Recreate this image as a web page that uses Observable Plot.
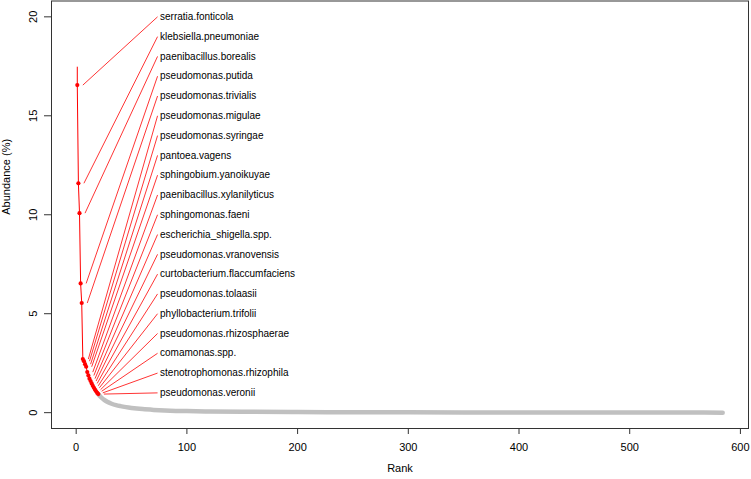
<!DOCTYPE html>
<html><head><meta charset="utf-8">
<script src="https://cdn.jsdelivr.net/npm/d3@7"></script>
<script src="https://cdn.jsdelivr.net/npm/@observablehq/plot@0.6"></script>
<style>html,body{margin:0;padding:0;background:#fff;}</style>
</head><body><div id="chart"></div>
<script>
// Top 20 taxa (rank 1..20)
const taxa = [
  "serratia.fonticola", "klebsiella.pneumoniae", "paenibacillus.borealis",
  "pseudomonas.putida", "pseudomonas.trivialis", "pseudomonas.migulae",
  "pseudomonas.syringae", "pantoea.vagens", "sphingobium.yanoikuyae",
  "paenibacillus.xylanilyticus", "sphingomonas.faeni", "escherichia_shigella.spp.",
  "pseudomonas.vranovensis", "curtobacterium.flaccumfaciens", "pseudomonas.tolaasii",
  "phyllobacterium.trifolii", "pseudomonas.rhizosphaerae", "comamonas.spp.",
  "stenotrophomonas.rhizophila", "pseudomonas.veronii"
];
const topRanks = [1,2,3,4,5,6,7,8,9,10,11,12,13,14,15,16,17,18,19,20];
const topAbundance = [16.55, 11.59, 10.08, 6.53, 5.54, 2.71, 2.6, 2.45, 2.32, 2.05,
  1.88, 1.72, 1.6, 1.48, 1.36, 1.26, 1.16, 1.08, 1.0, 0.94];
// label rows (y-values of the label column)
const labelRows = [20,19,18,17,16,15,14,13,12,11,10,9,8,7,6,5,4,3,2,1];
// red line start above rank 1
const redLineStartRank = 1;
const redLineStartValue = 17.46;

// remaining taxa (gray tail), read at selected ranks
const tailRanks = [20, 22, 25, 28, 32, 36, 40, 45, 50, 60, 70, 80, 90, 100, 120, 150, 200, 250, 300, 350, 400, 450, 500, 550, 584];
const tailAbundance = [0.94, 0.8, 0.66, 0.55, 0.45, 0.38, 0.33, 0.28, 0.24, 0.18, 0.14, 0.11, 0.09, 0.08, 0.06, 0.045, 0.03, 0.02, 0.015, 0.012, 0.009, 0.007, 0.005, 0.003, 0.002];

const xTicks = [0, 100, 200, 300, 400, 500, 600];
const yTicks = [0, 5, 10, 15, 20];

const topTaxa = topRanks.map((r, i) => ({rank: r, abundance: topAbundance[i], name: taxa[i], row: labelRows[i]}));
const tailTaxa = tailRanks.map((r, i) => ({rank: r, abundance: tailAbundance[i]}));
const redLine = [{rank: redLineStartRank, abundance: redLineStartValue}, ...topTaxa];
const labelX = 73.5;

const chart = Plot.plot({
  width: 751,
  height: 479,
  marginLeft: 51,
  marginRight: 3,
  marginTop: 0.5,
  marginBottom: 51,
  style: {fontFamily: "'Liberation Sans', Arial, sans-serif", background: "#fff", color: "#000"},
  x: {domain: [-22.3, 607.3]},
  y: {domain: [-0.8, 20.8]},
  marks: [
    Plot.line(tailTaxa, {x: "rank", y: "abundance", stroke: "#c0c0c0", strokeWidth: 4.5, strokeLinecap: "round", curve: "monotone-x"}),
    Plot.line(redLine, {x: "rank", y: "abundance", stroke: "red", strokeWidth: 1}),
    Plot.link(topTaxa, {x1: d => d.rank + 5, y1: "abundance", x2: () => labelX, y2: "row", stroke: "red", strokeWidth: 0.8}),
    Plot.dot(topTaxa, {x: "rank", y: "abundance", r: 2.1, fill: "red", stroke: "none"}),
    Plot.text(topTaxa, {x: () => labelX, y: "row", text: "name", textAnchor: "start", dx: 2.5, fontSize: 10, fill: "#000"}),
    Plot.frame({stroke: "#333"}),
    Plot.axisX({ticks: xTicks, tickSize: 6, tickPadding: 9, fontSize: 11, label: null, stroke: "#333"}),
    Plot.axisY({ticks: yTicks, tickSize: 7, tickRotate: -90, tickPadding: 8, fontSize: 11, label: null, stroke: "#333"}),
    Plot.text(["Rank"], {frameAnchor: "bottom", dy: 43, fontSize: 11, fill: "#000"}),
    Plot.text(["Abundance (%)"], {frameAnchor: "left", dx: -45, rotate: -90, fontSize: 11, fill: "#000"})
  ]
});
document.getElementById("chart").appendChild(chart);
</script>
</body></html>
